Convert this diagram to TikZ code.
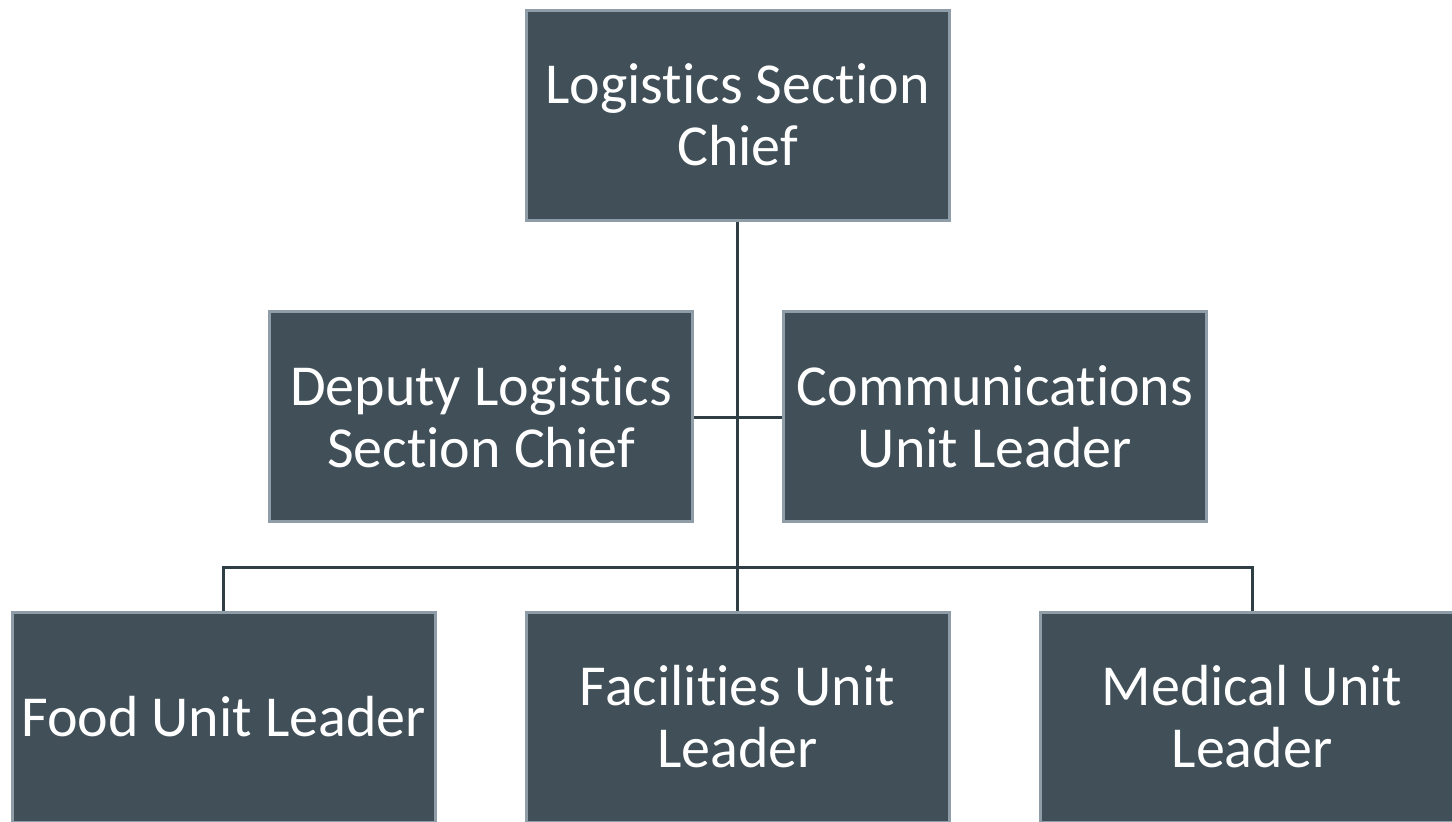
\documentclass[tikz,border=0pt]{standalone}
\usepackage{fontspec}
\setmainfont{Carlito}[Ligatures=NoCommon]
\definecolor{boxfill}{HTML}{415058}
\definecolor{boxedge}{HTML}{8F9DA8}
\definecolor{linec}{HTML}{2F3D45}
\begin{document}
\begin{tikzpicture}[x=1pt,y=-1pt,
  unit/.style={rectangle, fill=boxfill, draw=boxedge, line width=3pt,
    minimum width=423pt, minimum height=210pt, inner sep=0pt,
    text=white, align=center, font=\fontsize{58}{62}\selectfont},
  conn/.style={draw=linec, line width=3pt}]
\useasboundingbox (0,0) rectangle (1452,822);
\clip (0,0) rectangle (1452,822);
\node[unit] (chief) at (737.5,115) {Logistics Section\\Chief};
\node[unit] (deputy) at (481,416.5) {Deputy Logistics\\Section Chief};
\node[unit] (comm) at (995,416.5) {Communications\\Unit Leader};
\node[unit] (food) at (223.5,717) {Food Unit Leader};
\node[unit] (fac) at (737.5,717) {Facilities Unit\\Leader};
\node[unit] (med) at (1252,717) {Medical Unit\\Leader};
\coordinate (bar) at (737.5,567);
\coordinate (mid) at (737.5,417);
\draw[conn] (chief.south) -- (bar);
\draw[conn] (deputy.east |- mid) -- (comm.west |- mid);
\draw[conn] (food.north) -- (food.north |- bar) -- (med.north |- bar) -- (med.north);
\draw[conn] (bar) -- (fac.north);
\end{tikzpicture}
\end{document}
